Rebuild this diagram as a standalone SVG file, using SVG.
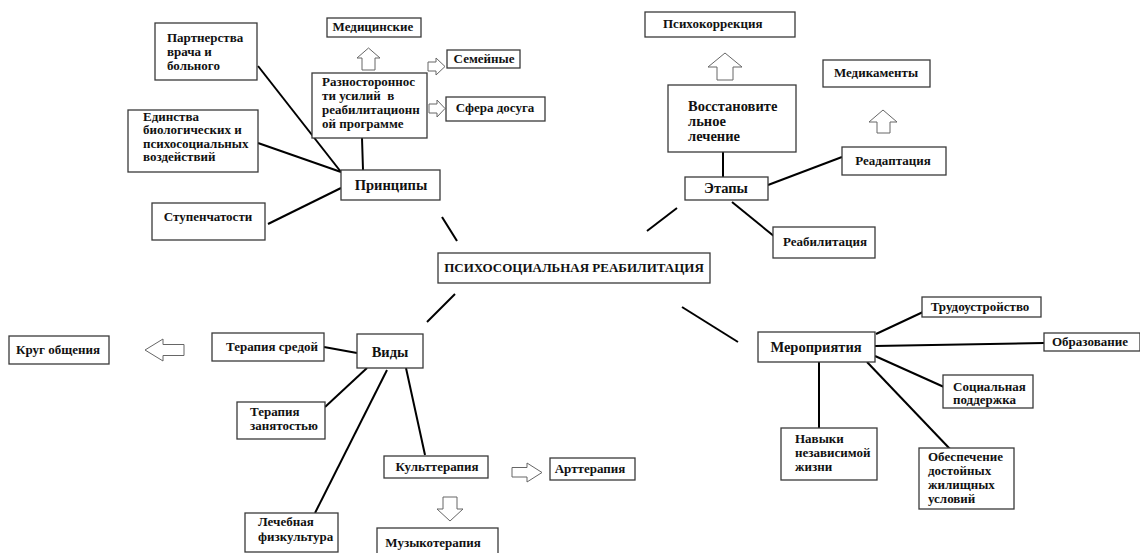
<svg xmlns="http://www.w3.org/2000/svg" width="1140" height="553" viewBox="0 0 1140 553">
<style>
.box{fill:#fff;stroke:#3a3a3a;stroke-width:1.3}
.t{font-family:"Liberation Serif","Times New Roman",serif;font-weight:bold;font-size:13px;fill:#111;white-space:pre}
.m{text-anchor:middle}
.b{font-size:14.5px}
.ln{stroke:#000;stroke-width:2;fill:none}
.arr{fill:#fff;stroke:#666;stroke-width:1}
</style>
<rect width="1140" height="553" fill="#fff"/>
<g id="connectors">
<line class="ln" x1="258" y1="66" x2="341" y2="172"/>
<line class="ln" x1="258" y1="143" x2="341" y2="172"/>
<line class="ln" x1="362" y1="138" x2="363" y2="170"/>
<line class="ln" x1="268" y1="224" x2="341" y2="188"/>
<line class="ln" x1="442" y1="217" x2="457" y2="241"/>
<line class="ln" x1="455" y1="294" x2="427" y2="322"/>
<line class="ln" x1="682" y1="307" x2="738" y2="342"/>
<line class="ln" x1="647" y1="231" x2="677" y2="208"/>
<line class="ln" x1="723" y1="152" x2="723" y2="177"/>
<line class="ln" x1="768" y1="185" x2="842" y2="157"/>
<line class="ln" x1="732" y1="202" x2="775" y2="237"/>
<line class="ln" x1="876" y1="334" x2="923" y2="312"/>
<line class="ln" x1="875" y1="346" x2="1044" y2="343"/>
<line class="ln" x1="875" y1="356" x2="944" y2="387"/>
<line class="ln" x1="819" y1="362" x2="819" y2="428"/>
<line class="ln" x1="867" y1="362" x2="950" y2="449"/>
<line class="ln" x1="324" y1="347" x2="357" y2="353"/>
<line class="ln" x1="325" y1="407" x2="367" y2="368"/>
<line class="ln" x1="315" y1="513" x2="387" y2="370"/>
<line class="ln" x1="406" y1="368" x2="425" y2="455"/>
<polygon class="arr" points="368.5,48 380,58 375,58 375,70 362,70 362,58 357,58"/>
<polygon class="arr" points="428,62 436,62 436,58 445,66.5 436,75 436,71 428,71"/>
<polygon class="arr" points="429,104 437,104 437,100 445,108.5 437,117 437,113 429,113"/>
<polygon class="arr" points="725,53 742,67 733,67 733,80 717,80 717,67 708,67"/>
<polygon class="arr" points="883,110 897,122 890,122 890,133 877,133 877,122 869,122"/>
<polygon class="arr" points="145,350 163,339 163,344.5 184,344.5 184,355.5 163,355.5 163,361"/>
<polygon class="arr" points="512,467.5 527,467.5 527,463 542,472.5 527,482 527,477 512,477"/>
<polygon class="arr" points="443,497 457,497 457,509 463,509 450,521 437,509 443,509"/>
</g>
<g id="center"><rect class="box" x="438" y="253" width="272" height="30"/><text class="t m" x="574" y="272">ПСИХОСОЦИАЛЬНАЯ РЕАБИЛИТАЦИЯ</text></g>
<g id="principles"><rect class="box" x="341" y="170" width="99" height="30"/><text class="t m b" x="391" y="190">Принципы</text></g>
<g id="partnership"><rect class="box" x="155" y="23" width="102" height="57"/><text class="t" x="167" y="42">Партнерства</text><text class="t" x="167" y="56">врача и</text><text class="t" x="167" y="70">больного</text></g>
<g id="unity"><rect class="box" x="128" y="110" width="130" height="62"/><text class="t" x="143" y="121">Единства</text><text class="t" x="143" y="134">биологических и</text><text class="t" x="143" y="148">психосоциальных</text><text class="t" x="143" y="161">воздействий</text></g>
<g id="steps"><rect class="box" x="152" y="203" width="113" height="37"/><text class="t m" x="208" y="221">Ступенчатости</text></g>
<g id="diversity"><rect class="box" x="312" y="73" width="115" height="65"/><text class="t" x="322" y="86">Разностороннос</text><text class="t" x="322" y="100" xml:space="preserve">ти усилий  в</text><text class="t" x="322" y="114">реабилитационн</text><text class="t" x="322" y="128">ой программе</text></g>
<g id="medical"><rect class="box" x="327" y="18" width="94" height="19"/><text class="t m" x="373" y="31">Медицинские</text></g>
<g id="family"><rect class="box" x="447" y="50" width="73" height="18"/><text class="t m" x="484" y="63">Семейные</text></g>
<g id="leisure"><rect class="box" x="446" y="97" width="99" height="24"/><text class="t m" x="495" y="112">Сфера досуга</text></g>
<g id="stages"><rect class="box" x="685" y="177" width="83" height="23"/><text class="t m b" x="726" y="193">Этапы</text></g>
<g id="restorative"><rect class="box" x="668" y="85" width="128" height="67"/><text class="t b" x="688" y="111">Восстановите</text><text class="t b" x="688" y="126">льное</text><text class="t b" x="688" y="141">лечение</text></g>
<g id="psychocorrection"><rect class="box" x="645" y="12" width="150" height="25"/><text class="t" x="663" y="28">Психокоррекция</text></g>
<g id="medication"><rect class="box" x="823" y="60" width="107" height="27"/><text class="t m" x="876" y="77">Медикаменты</text></g>
<g id="readaptation"><rect class="box" x="842" y="147" width="104" height="28"/><text class="t m" x="893" y="165">Реадаптация</text></g>
<g id="rehabilitation"><rect class="box" x="773" y="227" width="102" height="31"/><text class="t m" x="825" y="246">Реабилитация</text></g>
<g id="measures"><rect class="box" x="758" y="332" width="117" height="30"/><text class="t m b" x="816" y="352">Мероприятия</text></g>
<g id="employment"><rect class="box" x="922" y="297" width="119" height="20"/><text class="t m" x="980" y="311">Трудоустройство</text></g>
<g id="education"><rect class="box" x="1044" y="333" width="96" height="18"/><text class="t" x="1052" y="346">Образование</text></g>
<g id="social"><rect class="box" x="943" y="375" width="90" height="33"/><text class="t" x="953" y="391">Социальная</text><text class="t" x="953" y="404">поддержка</text></g>
<g id="skills"><rect class="box" x="781" y="428" width="96" height="52"/><text class="t" x="795" y="443">Навыки</text><text class="t" x="795" y="457">независимой</text><text class="t" x="795" y="471">жизни</text></g>
<g id="housing"><rect class="box" x="919" y="448" width="95" height="61"/><text class="t" x="928" y="461">Обеспечение</text><text class="t" x="928" y="475">достойных</text><text class="t" x="928" y="489">жилищных</text><text class="t" x="928" y="503">условий</text></g>
<g id="types"><rect class="box" x="357" y="334" width="66" height="34"/><text class="t m b" x="390" y="357">Виды</text></g>
<g id="circle"><rect class="box" x="9" y="336" width="100" height="28"/><text class="t m" x="58" y="354">Круг общения</text></g>
<g id="milieu"><rect class="box" x="212" y="333" width="112" height="28"/><text class="t m" x="272" y="351">Терапия средой</text></g>
<g id="occupational"><rect class="box" x="237" y="402" width="88" height="37"/><text class="t" x="250" y="416">Терапия</text><text class="t" x="250" y="430">занятостью</text></g>
<g id="physical"><rect class="box" x="245" y="513" width="93" height="39"/><text class="t" x="258" y="526">Лечебная</text><text class="t" x="258" y="541">физкультура</text></g>
<g id="culture"><rect class="box" x="384" y="456" width="104" height="22"/><text class="t m" x="437" y="471">Культтерапия</text></g>
<g id="art"><rect class="box" x="550" y="458" width="85" height="22"/><text class="t m" x="590" y="473">Арттерапия</text></g>
<g id="music"><rect class="box" x="377" y="528" width="121" height="30"/><text class="t m" x="433" y="547">Музыкотерапия</text></g>
</svg>
